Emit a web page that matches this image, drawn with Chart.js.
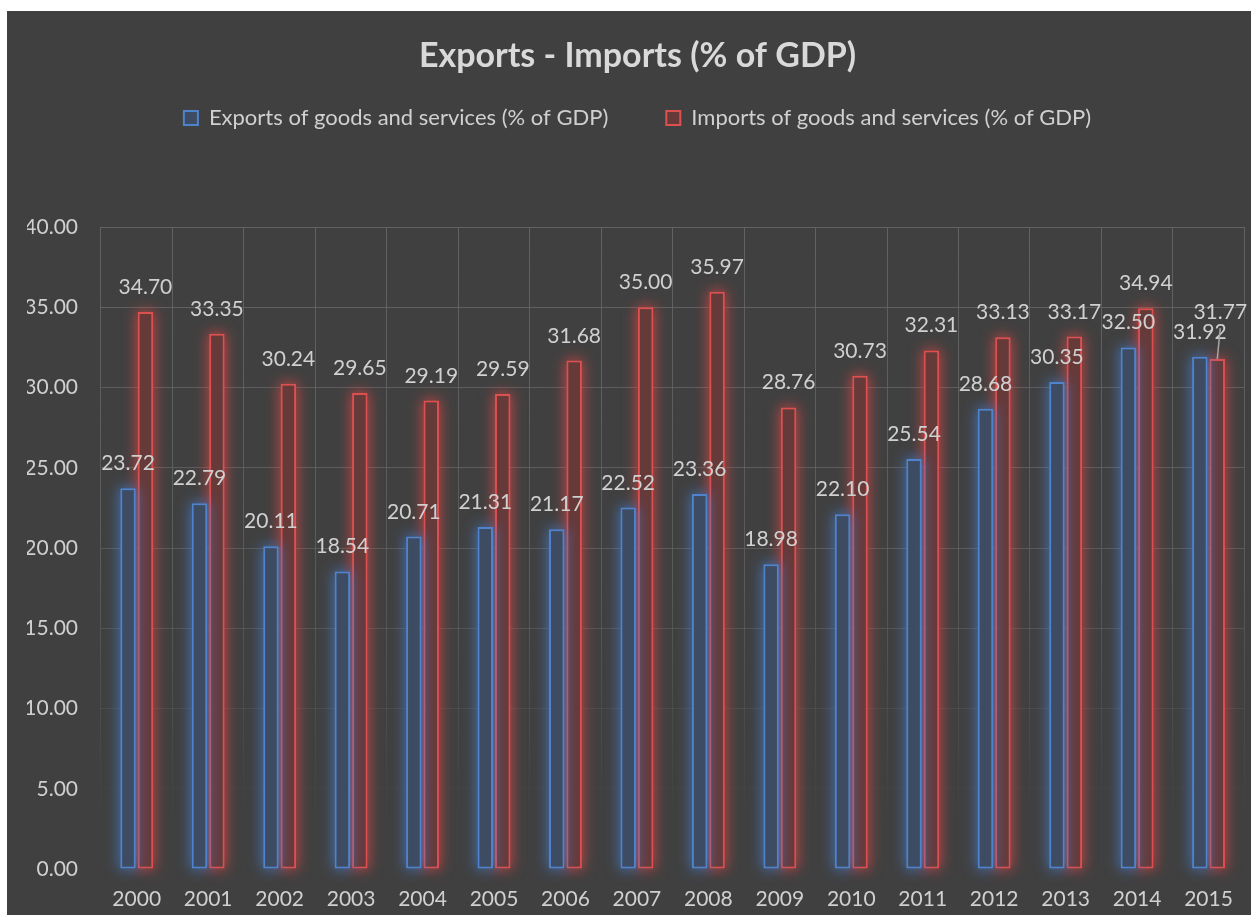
<!DOCTYPE html>
<html>
<head>
<meta charset="utf-8">
<script src="https://cdn.jsdelivr.net/npm/chart.js@4.4.1/dist/chart.umd.min.js"></script>
<style>
  html, body { margin: 0; padding: 0; background: #ffffff; }
  #frame { position: absolute; left: 7px; top: 11px; width: 1244px; height: 904px; background: #404040; }
  canvas { display: block; }
</style>
</head>
<body>
<div id="frame"><canvas id="chart" width="1244" height="904"></canvas></div>
<script>
// Years on the category axis
const years = ['2000','2001','2002','2003','2004','2005','2006','2007',
               '2008','2009','2010','2011','2012','2013','2014','2015'];

// Exports of goods and services (% of GDP)
const exportsPct = [23.72, 22.79, 20.11, 18.54, 20.71, 21.31, 21.17, 22.52,
                    23.36, 18.98, 22.10, 25.54, 28.68, 30.35, 32.50, 31.92];

// Imports of goods and services (% of GDP)
const importsPct = [34.70, 33.35, 30.24, 29.65, 29.19, 29.59, 31.68, 35.00,
                    35.97, 28.76, 30.73, 32.31, 33.13, 33.17, 34.94, 31.77];

// Value axis range and step
const yMin = 0;
const yMax = 40;
const yStep = 5;

const FONT = 'Lato, "Open Sans", sans-serif';
const TEXT = '#d0d0d0';

// Soft halo behind each bar, drawn just before its dataset
const barGlow = {
  id: 'barGlow',
  beforeDatasetDraw(chart, args, opts) {
    const ctx = chart.ctx;
    const color = opts.colors[args.index];
    const far = 10000;
    ctx.save();
    ctx.shadowColor = color;
    ctx.shadowBlur = opts.blur;
    ctx.shadowOffsetX = far;
    ctx.fillStyle = '#000';
    args.meta.data.forEach(bar => {
      const p = bar.getProps(['x', 'y', 'base', 'width'], true);
      const left = p.x - p.width / 2 - opts.spread;
      const top = Math.min(p.y, p.base) - opts.spread;
      const h = Math.abs(p.base - p.y) + opts.spread * 2;
      ctx.fillRect(left - far, top, p.width + opts.spread * 2, h);
    });
    ctx.restore();
  }
};

// Value labels above the bars
const valueLabels = {
  id: 'valueLabels',
  afterDatasetsDraw(chart, args, opts) {
    const ctx = chart.ctx;
    ctx.save();
    ctx.font = opts.size + 'px ' + FONT;
    ctx.fillStyle = opts.color;
    ctx.textAlign = 'center';
    ctx.textBaseline = 'alphabetic';
    chart.data.datasets.forEach((ds, di) => {
      const meta = chart.getDatasetMeta(di);
      meta.data.forEach((bar, i) => {
        const nudge = (opts.nudges[di + '-' + i]) || [0, 0];
        const x = bar.x + nudge[0];
        const y = bar.y - opts.gap + nudge[1];
        if (nudge[1] !== 0) {
          ctx.save();
          ctx.strokeStyle = opts.leaderColor;
          ctx.lineWidth = 1.5;
          ctx.beginPath();
          ctx.moveTo(x, y + 9);
          ctx.lineTo(bar.x, bar.y);
          ctx.stroke();
          ctx.restore();
        }
        ctx.fillText(ds.data[i].toFixed(2), x, y);
      });
    });
    ctx.restore();
  }
};

// Extra room between the legend row and the plot area
const legendGap = {
  id: 'legendGap',
  beforeLayout(chart, args, opts) {
    const lg = chart.legend;
    if (lg && !lg._gapApplied) {
      const fit = lg.fit;
      lg.fit = function () {
        fit.call(this);
        this.height += opts.extra;
      };
      lg._gapApplied = true;
    }
  }
};

// Grid lines fade out toward the bottom of the plot
function gridFade(context) {
  const chart = context.chart;
  const area = chart.chartArea;
  if (!area) return 'rgba(96,96,96,1)';
  const g = chart.ctx.createLinearGradient(0, area.top, 0, area.bottom);
  g.addColorStop(0, 'rgba(98,98,98,1)');
  g.addColorStop(0.55, 'rgba(98,98,98,0.75)');
  g.addColorStop(0.92, 'rgba(98,98,98,0)');
  g.addColorStop(1, 'rgba(98,98,98,0)');
  return g;
}

new Chart(document.getElementById('chart'), {
  type: 'bar',
  data: {
    labels: years,
    datasets: [
      {
        label: 'Exports of goods and services (% of GDP)',
        data: exportsPct,
        backgroundColor: '#3d4c62',
        borderColor: '#4f83cc',
        borderWidth: 2,
        borderSkipped: false,
        barPercentage: 0.886,
        categoryPercentage: 0.488
      },
      {
        label: 'Imports of goods and services (% of GDP)',
        data: importsPct,
        backgroundColor: '#673a3a',
        borderColor: '#dc5050',
        borderWidth: 2,
        borderSkipped: false,
        barPercentage: 0.886,
        categoryPercentage: 0.488
      }
    ]
  },
  options: {
    responsive: false,
    devicePixelRatio: 1,
    animation: false,
    layout: { padding: { left: 20, right: 3, top: 0, bottom: 0 } },
    plugins: {
      title: {
        display: true,
        text: 'Exports - Imports (% of GDP)',
        color: '#d9d9d9',
        font: { family: FONT, size: 34, weight: 'bold' },
        padding: { top: 24.6, bottom: -27.4 }
      },
      legend: {
        display: true,
        position: 'top',
        labels: {
          color: TEXT,
          font: { family: FONT, size: 22 },
          boxWidth: 14,
          boxHeight: 14,
          padding: 58
        }
      },
      tooltip: { enabled: false },
      legendGap: { extra: 88 },
      barGlow: {
        colors: ['rgba(70,125,205,0.8)', 'rgba(225,70,70,0.8)'],
        blur: 14,
        spread: 1
      },
      valueLabels: {
        size: 21,
        color: TEXT,
        gap: 18,
        leaderColor: '#a6a6a6',
        nudges: { '1-15': [3, -22] }
      }
    },
    scales: {
      x: {
        grid: { color: gridFade, drawTicks: false, lineWidth: 1 },
        border: { display: false },
        ticks: { color: TEXT, font: { family: FONT, size: 21 }, padding: 18, maxRotation: 0 },
        afterFit(scale) { scale.height = 46; }
      },
      y: {
        min: yMin,
        max: yMax,
        grid: { color: gridFade, drawTicks: false, lineWidth: 1 },
        border: { display: false },
        ticks: {
          stepSize: yStep,
          color: TEXT,
          font: { family: FONT, size: 21 },
          padding: 23,
          callback: v => Number(v).toFixed(2)
        },
        afterFit(scale) { scale.width = 74; }
      }
    }
  },
  plugins: [legendGap, barGlow, valueLabels]
});
</script>
</body>
</html>
